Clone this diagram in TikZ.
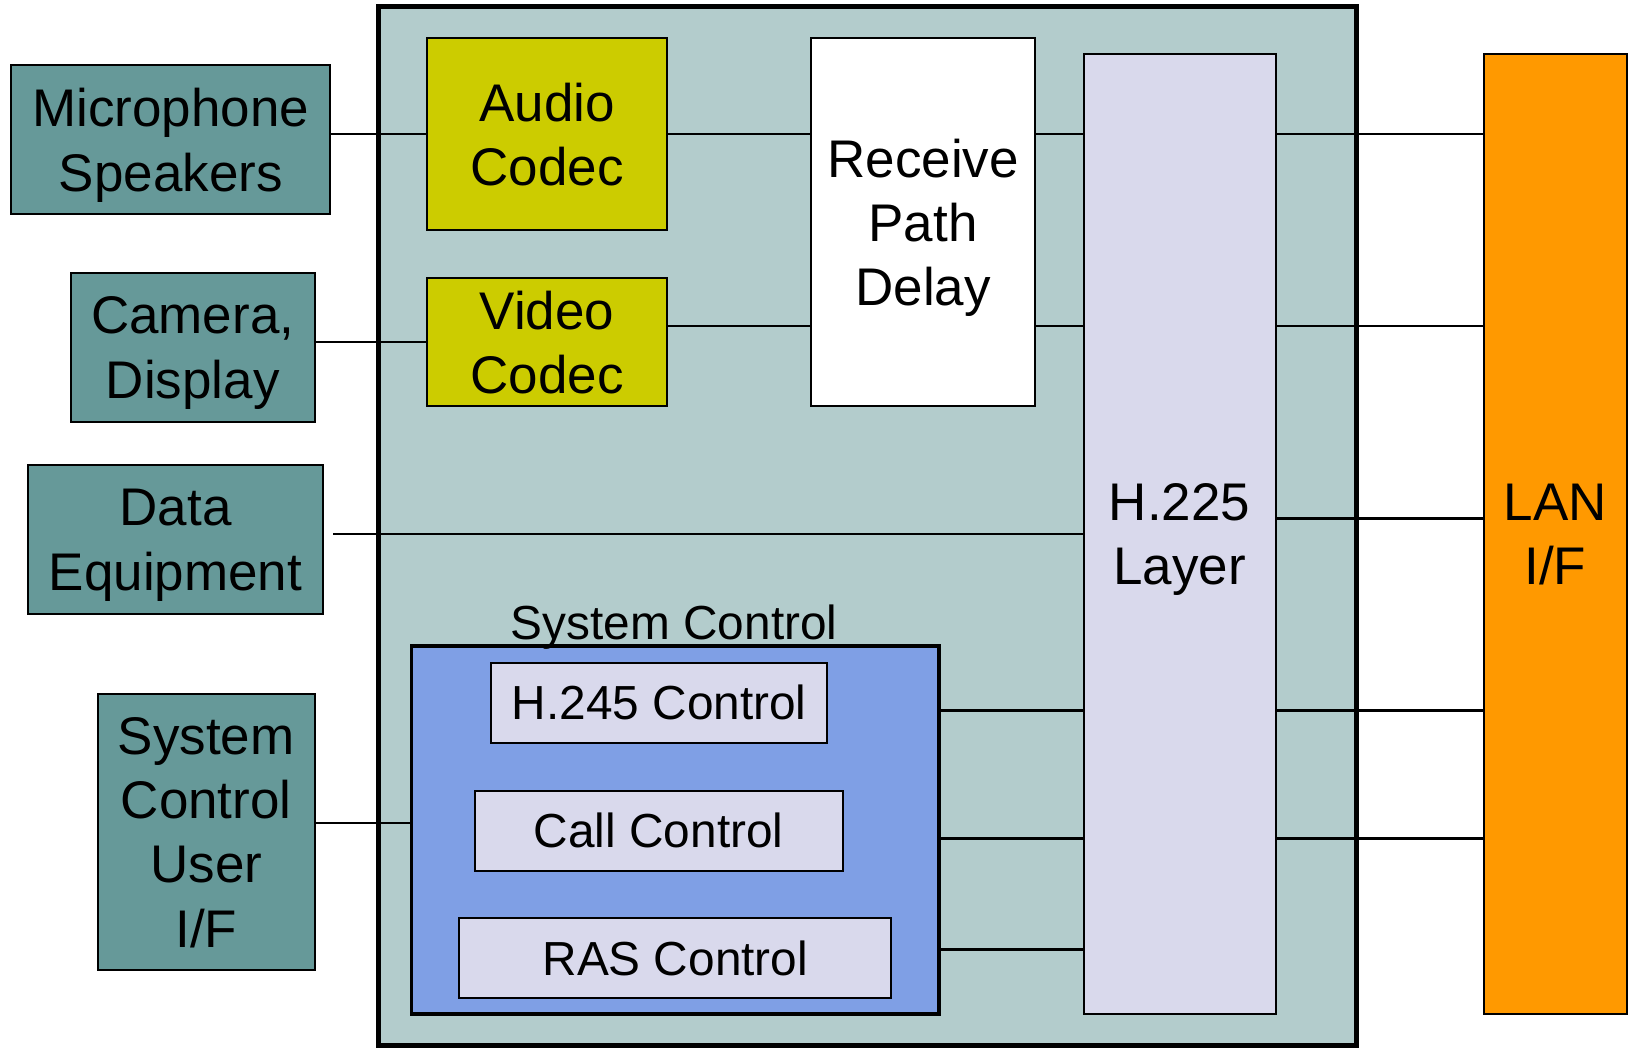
\documentclass[tikz,border=0pt]{standalone}
\usepackage{fontspec}
\setmainfont{Liberation Sans}
\definecolor{tealbox}{RGB}{102,153,153}
\definecolor{mainbg}{RGB}{179,204,204}
\definecolor{codec}{RGB}{204,204,0}
\definecolor{lav}{RGB}{217,217,236}
\definecolor{sysblue}{RGB}{127,159,229}
\definecolor{lanor}{RGB}{255,153,0}
\tikzset{
  blk/.style={draw=black, line width=2pt, inner sep=0pt, align=center, text depth=0pt,
    font=\fontsize{51}{62}\selectfont},
  sblk/.style={draw=black, line width=2pt, inner sep=0pt, align=center, fill=lav,
    font=\fontsize{46}{56}\selectfont},
  conn/.style={draw=black, line width=2.2pt},
  bx/.style n args={4}{at={({(#1+#3)/2},{(#2+#4)/2})},
    minimum width={(#3)-(#1)}, minimum height={(#4)-(#2)}},
}
\begin{document}
\begin{tikzpicture}[x=1pt,y=-1pt]
\useasboundingbox (0,0) rectangle (1568,1008);
% main box
\node[draw=black, line width=5pt, fill=mainbg, inner sep=0pt, bx={364}{6}{1306}{1006}] (main) {};
% left side boxes
\node[blk, fill=tealbox, bx={11}{63}{318}{206}] (mic) {Microphone\\Speakers};
\node[blk, fill=tealbox, bx={68}{263}{303}{406}] (cam) {Camera,\\Display};
\node[blk, fill=tealbox, bx={27}{448}{311}{591}] (data) {Data\\Equipment};
\node[blk, fill=tealbox, bx={94}{668}{303}{934}] (uif) {System\\Control\\User\\I/F};
% inner boxes
\node[blk, fill=codec, bx={411}{37}{642}{221}] (audio) {Audio\\Codec};
\node[blk, fill=codec, bx={411}{268}{642}{391}] (video) {Video\\Codec};
\node[blk, fill=white, bx={781}{37}{996}{391}] (rpd) {Receive\\Path\\Delay};
\node[blk, fill=lav, bx={1043}{52}{1228}{976}] (h225) {H.225\\Layer};
\node[blk, fill=lanor, bx={1428}{52}{1566}{976}] (lan) {LAN\\I/F};
% system control
\node[draw=black, line width=3.5pt, fill=sysblue, inner sep=0pt, bx={396}{622}{904}{976}] (sys) {};
\node[font=\fontsize{46}{56}\selectfont, inner sep=0pt] (syslbl) at (649,604) {System Control};
\node[sblk, bx={473}{638}{796}{715}] (h245) {H.245 Control};
\node[sblk, bx={457}{761}{811}{838}] (call) {Call Control};
\node[sblk, bx={442}{884}{858}{961}] (ras) {RAS Control};
% helper coordinates for line heights
\coordinate (ya) at (0,129);
\coordinate (yv) at (0,314);
\coordinate (yd) at (0,499);
\coordinate (y1) at (0,684);
\coordinate (y2) at (0,807);
\coordinate (y3) at (0,914);
\coordinate (yu) at (0,792);
% connectors
\draw[conn] (mic.east |- ya) -- (audio.west |- ya);
\draw[conn] (audio.east |- ya) -- (rpd.west |- ya);
\draw[conn] (rpd.east |- ya) -- (h225.west |- ya);
\draw[conn] (h225.east |- ya) -- (lan.west |- ya);
\draw[conn] (cam.east |- video.west) -- (video.west);
\draw[conn] (video.east |- yv) -- (rpd.west |- yv);
\draw[conn] (rpd.east |- yv) -- (h225.west |- yv);
\draw[conn] (h225.east |- yv) -- (lan.west |- yv);
\draw[conn] ([xshift=9pt]data.east |- h225.west) -- (h225.west);
\draw[conn] (h225.east |- yd) -- (lan.west |- yd);
\draw[conn] (sys.east |- y1) -- (h225.west |- y1);
\draw[conn] (h225.east |- y1) -- (lan.west |- y1);
\draw[conn] (sys.east |- y2) -- (h225.west |- y2);
\draw[conn] (h225.east |- y2) -- (lan.west |- y2);
\draw[conn] (sys.east |- y3) -- (h225.west |- y3);
\draw[conn] (uif.east |- yu) -- (sys.west |- yu);
\end{tikzpicture}
\end{document}
